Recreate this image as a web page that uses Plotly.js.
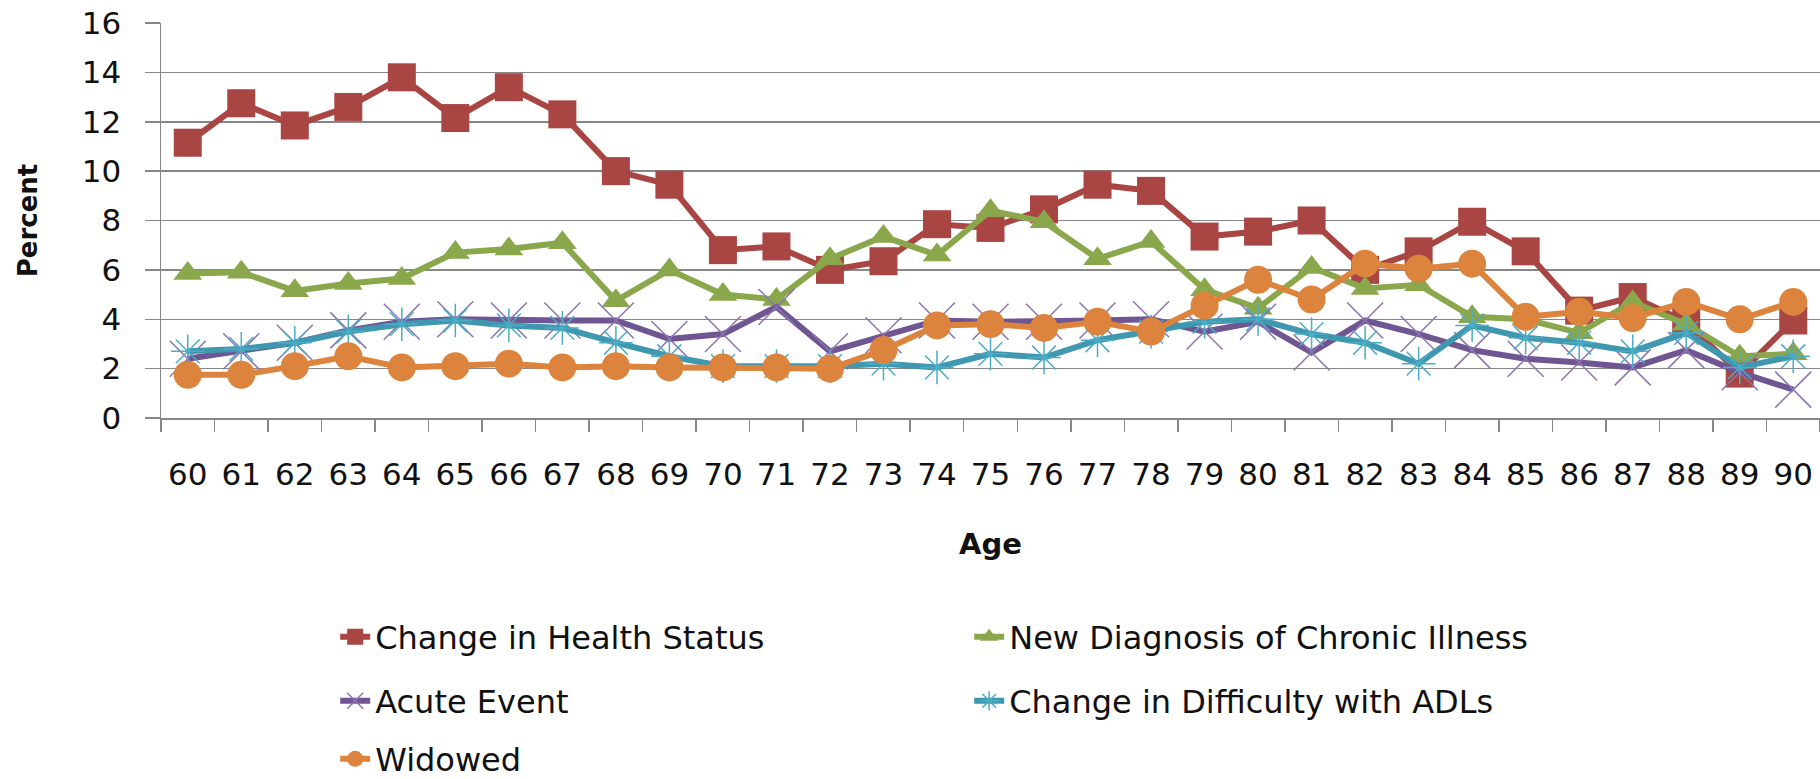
<!DOCTYPE html>
<html>
<head>
<meta charset="utf-8">
<script src="https://cdn.plot.ly/plotly-3.0.1.min.js"></script>
<style>
  html, body { margin: 0; padding: 0; background: #fff; }
  #chart { width: 1820px; height: 779px; }
</style>
</head>
<body>
<div id="chart"></div>
<script>
const ages = ["60","61","62","63","64","65","66","67","68","69","70","71","72","73","74","75",
              "76","77","78","79","80","81","82","83","84","85","86","87","88","89","90"];

const healthStatus = [11.15, 12.75, 11.85, 12.6, 13.8, 12.15, 13.4, 12.3, 10.0, 9.45, 6.8, 6.95, 6.0, 6.35, 7.85, 7.7,
                      8.45, 9.45, 9.2, 7.35, 7.55, 8.0, 6.0, 6.75, 7.95, 6.75, 4.35, 4.9, 3.9, 1.8, 3.95];
const chronicIllness = [5.85, 5.9, 5.15, 5.45, 5.65, 6.7, 6.85, 7.1, 4.75, 6.0, 5.0, 4.8, 6.45, 7.35, 6.6, 8.4,
                        7.95, 6.45, 7.15, 5.2, 4.45, 6.1, 5.25, 5.4, 4.1, 4.0, 3.45, 4.7, 3.8, 2.5, 2.6];
const acuteEvent = [2.4, 2.7, 3.05, 3.55, 3.9, 4.0, 3.95, 3.95, 3.95, 3.2, 3.4, 4.5, 2.7, 3.35, 3.95, 3.9,
                    3.9, 3.95, 4.0, 3.5, 3.9, 2.65, 3.95, 3.4, 2.75, 2.4, 2.25, 2.05, 2.75, 1.85, 1.15];
const adlDifficulty = [2.7, 2.8, 3.05, 3.5, 3.8, 3.95, 3.75, 3.65, 3.05, 2.5, 2.1, 2.1, 2.1, 2.2, 2.05, 2.6,
                       2.45, 3.15, 3.5, 3.9, 4.0, 3.4, 3.05, 2.2, 3.75, 3.25, 3.05, 2.7, 3.45, 2.05, 2.5];
const widowed = [1.75, 1.75, 2.1, 2.5, 2.05, 2.1, 2.2, 2.05, 2.1, 2.05, 2.05, 2.05, 2.0, 2.75, 3.75, 3.8,
                 3.65, 3.9, 3.5, 4.55, 5.6, 4.8, 6.25, 6.05, 6.25, 4.1, 4.3, 4.05, 4.7, 4.0, 4.7];

const seriesNames = ["Change in Health Status", "New Diagnosis of Chronic Illness", "Acute Event",
                     "Change in Difficulty with ADLs", "Widowed"];
const yTicks = [0, 2, 4, 6, 8, 10, 12, 14, 16];

const FONT = "'DejaVu Sans', Lato, sans-serif";
const GRID = "#878787";
const TXT = "#111";

function mk(y, name, color, symbol, size, legend, markerColor) {
  const open = symbol.indexOf("open") >= 0;
  return {
    type: "scatter", mode: "lines+markers", x: ages, y: y, name: name, legend: legend,
    line: { color: color, width: 6 },
    marker: open
      ? { symbol: symbol, size: size, color: markerColor, line: { color: markerColor, width: 1.5 } }
      : { symbol: symbol, size: size, color: color, line: { width: 0 } }
  };
}

const traces = [
  mk(healthStatus, seriesNames[0], "#A94542", "square", 28, "legend"),
  mk(chronicIllness, seriesNames[1], "#8AA74C", "triangle-up", 25, "legend"),
  mk(acuteEvent, seriesNames[2], "#6F5592", "x-thin-open", 36, "legend2", "#8C74B0"),
  mk(adlDifficulty, seriesNames[3], "#3F98B0", "asterisk-open", 28, "legend3", "#4BACC6"),
  mk(widowed, seriesNames[4], "#DC843D", "circle", 28, "legend4")
];

const plotTop = 23, plotBottom = 418, plotH = plotBottom - plotTop;
function ly(px) { return (plotBottom - px) / plotH; }
const legBase = {
  orientation: "h", xanchor: "left", yanchor: "middle", x: 0.105,
  entrywidth: 589, entrywidthmode: "pixels", bgcolor: "rgba(0,0,0,0)",
  font: { family: FONT, size: 32, color: TXT }, traceorder: "normal"
};

const layout = {
  width: 1820, height: 779,
  margin: { l: 161, r: 0, t: plotTop, b: 779 - plotBottom, autoexpand: false },
  paper_bgcolor: "#fff", plot_bgcolor: "#fff",
  font: { family: FONT, color: TXT },
  xaxis: {
    type: "category", range: [-0.5, ages.length - 0.5], autorange: false,
    tickson: "boundaries", ticks: "outside", ticklen: 12, tickwidth: 1.5, tickcolor: GRID,
    showline: true, linecolor: GRID, linewidth: 1.5, showgrid: false, zeroline: false,
    tickfont: { family: FONT, size: 31, color: TXT }, ticklabelstandoff: 28,
    title: { text: "<b>Age</b>", font: { family: FONT, size: 29, color: TXT }, standoff: 43 },
    fixedrange: true
  },
  yaxis: {
    range: [0, 16], autorange: false, tickvals: yTicks, ticktext: yTicks.map(String),
    ticks: "outside", ticklen: 15, tickwidth: 1.5, tickcolor: GRID,
    showline: true, linecolor: GRID, linewidth: 1.5,
    showgrid: true, gridcolor: GRID, gridwidth: 1.5, zeroline: false,
    tickfont: { family: FONT, size: 31, color: TXT }, ticklabelstandoff: 17,
    title: { text: "<b>Percent</b>", font: { family: FONT, size: 26, color: TXT }, standoff: 36 },
    fixedrange: true
  },
  legend: Object.assign({}, legBase, { y: ly(637) }),
  legend2: Object.assign({}, legBase, { y: ly(701) }),
  legend3: Object.assign({}, legBase, { y: ly(701), x: 0.105 + 634 / 1659 }),
  legend4: Object.assign({}, legBase, { y: ly(759) }),
  showlegend: true
};

Plotly.newPlot("chart", traces, layout, { displayModeBar: false, staticPlot: true });
</script>
</body>
</html>
